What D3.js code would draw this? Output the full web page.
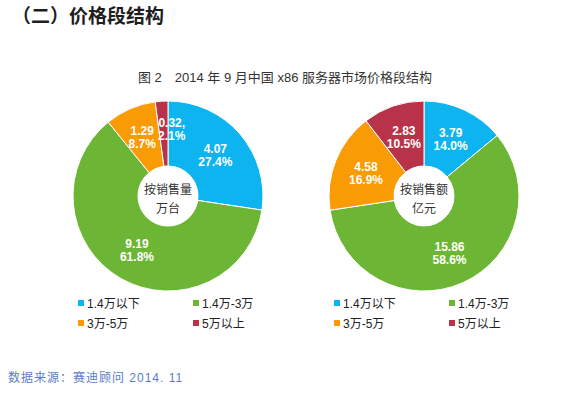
<!DOCTYPE html>
<html>
<head>
<meta charset="utf-8">
<script src="https://cdn.jsdelivr.net/npm/d3@7"></script>
<style>
    body { margin: 0; background: #fff; }
    #chart { width: 577px; height: 393px; }
    text { font-family: "Liberation Sans", Arial, "Noto Sans CJK SC", sans-serif; }
</style>
</head>
<body>
<div id="chart"></div>
<script>

const categories = ["1.4万以下", "1.4万-3万", "3万-5万", "5万以上"];
const colors = ["#0eb4f0", "#6db534", "#f99b05", "#b8334a"];

// 按销售量（万台）
const volumeValues = [4.07, 9.19, 1.29, 0.32];
const volumeLabels = ["4.07", "9.19", "1.29", "0.32,"];
const volumePercents = ["27.4%", "61.8%", "8.7%", "2.1%"];

// 按销售额（亿元）
const salesValues = [3.79, 15.86, 4.58, 2.83];
const salesLabels = ["3.79", "15.86", "4.58", "2.83"];
const salesPercents = ["14.0%", "58.6%", "16.9%", "10.5%"];

const width = document.querySelector("#chart").clientWidth;
const height = document.querySelector("#chart").clientHeight;
const svg = d3.select("#chart")
    .append("svg")
    .attr("width", width)
    .attr("height", height);

// header
svg.append("text")
    .attr("x", 12)
    .attr("y", 23)
    .style("font-size", "19px")
    .style("font-weight", "bold")
    .style("fill", "#1e1e1e")
    .text("（二）价格段结构");

svg.append("text")
    .attr("x", 285)
    .attr("y", 82)
    .attr("text-anchor", "middle")
    .style("font-size", "13px")
    .style("fill", "#333")
    .text("图 2　2014 年 9 月中国 x86 服务器市场价格段结构");

const pie = d3.pie().sort(null).startAngle(0).endAngle(2 * Math.PI);
const outerR = 95, innerR = 30;
const arc = d3.arc().innerRadius(innerR).outerRadius(outerR);

function drawDonut(cx, cy, values, labels, percents, centerLines, legendX, nudges) {
    const g = svg.append("g").attr("transform", "translate(" + cx + "," + cy + ")");
    const arcs = pie(values);

    g.selectAll("path.slice")
        .data(arcs)
        .enter()
        .append("path")
        .attr("class", "slice")
        .attr("d", arc)
        .attr("fill", function (d, i) { return colors[i]; })
        .attr("stroke", "#fff")
        .attr("stroke-width", 1);

    g.append("circle")
        .attr("r", innerR)
        .attr("fill", "#fff");

    const lbl = g.selectAll("text.lbl")
        .data(arcs)
        .enter()
        .append("text")
        .attr("class", "lbl")
        .attr("transform", function (d, i) {
            const c = arc.centroid(d);
            const n = nudges[i] || [0, 0];
            return "translate(" + (c[0] + n[0]) + "," + (c[1] + n[1]) + ")";
        })
        .attr("text-anchor", "middle")
        .style("font-size", "12px")
        .style("font-weight", "bold")
        .style("fill", "#fff");
    lbl.append("tspan").attr("x", 0).attr("y", -2).text(function (d, i) { return labels[i]; });
    lbl.append("tspan").attr("x", 0).attr("y", 11).text(function (d, i) { return percents[i]; });

    g.append("text")
        .attr("x", 0).attr("y", -2)
        .attr("text-anchor", "middle")
        .style("font-size", "12px")
        .style("fill", "#333")
        .text(centerLines[0]);
    g.append("text")
        .attr("x", 0).attr("y", 17)
        .attr("text-anchor", "middle")
        .style("font-size", "12px")
        .style("fill", "#333")
        .text(centerLines[1]);

    // legend 2x2
    const leg = svg.append("g").attr("transform", "translate(" + legendX + ",303)");
    const items = leg.selectAll("g")
        .data(categories)
        .enter()
        .append("g")
        .attr("transform", function (d, i) { return "translate(" + (i % 2) * 115 + "," + Math.floor(i / 2) * 20 + ")"; });
    items.append("rect")
        .attr("x", 0).attr("y", -3)
        .attr("width", 6).attr("height", 6)
        .attr("fill", function (d, i) { return colors[i]; });
    items.append("text")
        .attr("x", 9).attr("y", 4.5)
        .style("font-size", "12px")
        .style("fill", "#222")
        .text(function (d) { return d; });
}

drawDonut(168, 196, volumeValues, volumeLabels, volumePercents, ["按销售量", "万台"], 78,
    [[0, 0], [0, 0], [-1, -2], [8, -5]]);
drawDonut(424, 196, salesValues, salesLabels, salesPercents, ["按销售额", "亿元"], 334,
    [[0, 0], [0, 0], [0, 0], [0, 0]]);

svg.append("text")
    .attr("x", 8)
    .attr("y", 382)
    .style("font-size", "12px")
    .style("letter-spacing", "1px")
    .style("fill", "#5b7cc8")
    .text("数据来源：赛迪顾问 2014. 11");

</script>
</body>
</html>
